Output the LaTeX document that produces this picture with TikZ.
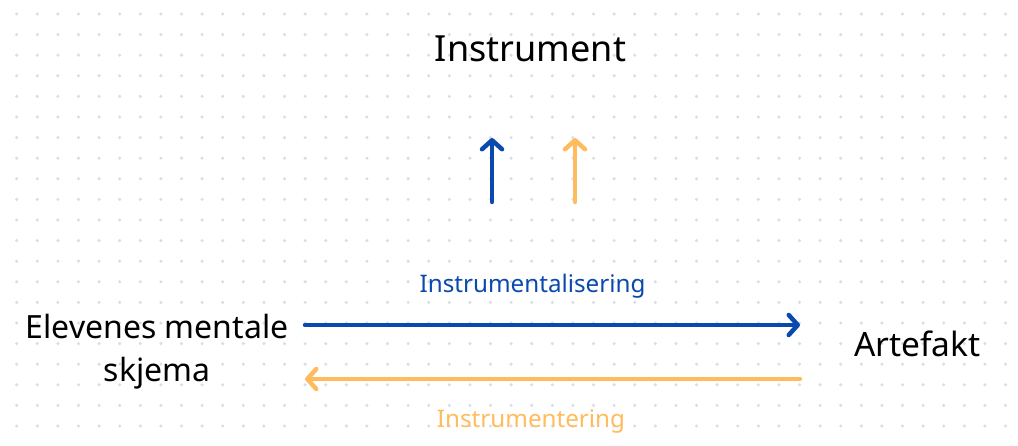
\documentclass[tikz,border=0pt]{standalone}
\usepackage{fontspec}
\setmainfont{Noto Sans}
\usetikzlibrary{arrows.meta}
\definecolor{gridDot}{HTML}{D8DDE6}
\definecolor{plexBlue}{HTML}{0A49AD}
\definecolor{softOrange}{HTML}{FFBC5E}
\tikzset{
  label/.style={inner sep=0pt, anchor=base, text=black},
  flow/.style={line width=4.5pt, line cap=round,
    -{Straight Barb[length=9pt,width=20pt,line cap=round,line join=round]}},
}
\begin{document}
\begin{tikzpicture}[x=1pt,y=-1pt]
  \useasboundingbox (0,0) rectangle (1018,446);
  \fill[white] (0,0) rectangle (1018,446);
  % dotted paper background
  \foreach \i in {0,...,48}{
    \foreach \j in {0,...,20}{
      \fill[gridDot] ({16.7+20.6*\i},{14+20.6*\j}) circle (1.7);
    }
  }
  % texts
  \node[label, font=\fontsize{36}{40}\selectfont] (instr) at (530.5,61.7) {Instrument};
  \node[label, font=\fontsize{33.5}{38}\selectfont] (artef) at (917.5,357) {Artefakt};
  \node[label, font=\fontsize{32}{38}\selectfont] (elev1) at (157,339) {Elevenes mentale};
  \node[label, font=\fontsize{32}{38}\selectfont] (elev2) at (157,382) {skjema};
  \node[label, text=plexBlue, font=\fontsize{24.2}{28}\selectfont] (instl) at (532.5,293) {Instrumentalisering};
  \node[label, text=softOrange, font=\fontsize{24.2}{28}\selectfont] (instg) at (531,428) {Instrumentering};
  % arrow end points
  \coordinate (bUp0) at (492,202);
  \coordinate (bUp1) at (492,138);
  \coordinate (oUp0) at (575,202);
  \coordinate (oUp1) at (575,138);
  \coordinate (bL) at (305,325);
  \coordinate (bR) at (800,325);
  \coordinate (oR) at (800,379);
  \coordinate (oL) at (305,379);
  % arrows
  \draw[flow, plexBlue] (bUp0) -- (bUp1);
  \draw[flow, softOrange] (oUp0) -- (oUp1);
  \draw[flow, plexBlue] (bL) -- (bR);
  \draw[flow, softOrange] (oR) -- (oL);
\end{tikzpicture}
\end{document}
